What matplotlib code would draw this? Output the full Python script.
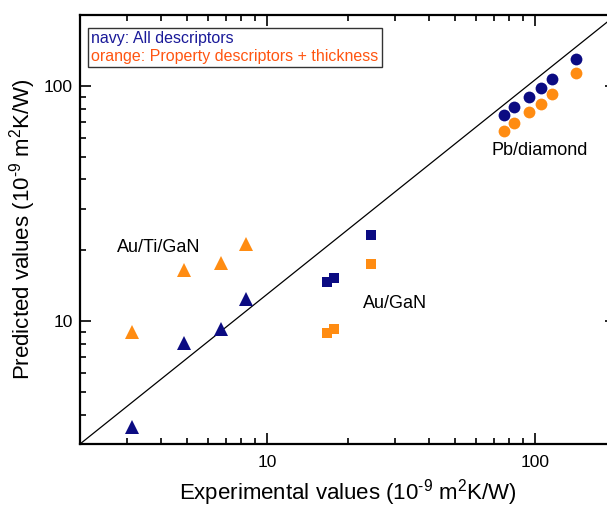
import matplotlib
matplotlib.use('Agg')
import matplotlib.pyplot as plt
import matplotlib.ticker as ticker
from matplotlib.lines import Line2D

plt.rcParams['font.family'] = ['Liberation Sans', 'DejaVu Sans']
plt.rcParams['mathtext.fontset'] = 'custom'
plt.rcParams['mathtext.rm'] = 'Liberation Sans'
plt.rcParams['mathtext.default'] = 'regular'

# Au/Ti/GaN (triangles)
tri_exp = [3.13, 4.87, 6.71, 8.33]
tri_all = [3.55, 8.03, 9.22, 12.44]
tri_prop = [8.99, 16.54, 17.65, 21.2]

# Au/GaN (squares)
sq_exp = [16.65, 17.68, 24.4]
sq_all = [14.67, 15.25, 23.1]
sq_prop = [8.93, 9.22, 17.48]

# Pb/diamond (circles)
circ_exp = [76.6, 83.3, 94.7, 105.0, 115.4, 141.9]
circ_all = [75.2, 81.0, 89.2, 98.1, 107.3, 130.4]
circ_prop = [64.1, 69.6, 77.1, 83.4, 92.2, 113.8]

xlim = (2, 200)
ylim = (3, 200)

navy = '#0b0b82'
orange = '#ff8c12'

fig = plt.figure(figsize=(6.07, 5.09), dpi=100)
# axes extends past the right edge, like the cropped original
ax = fig.add_axes([80 / 607, 65 / 509, 536 / 607, 429 / 509])

# diagonal from corner to corner
ax.plot(xlim, ylim, color='black', lw=0.9, zorder=1)

ax.plot(tri_exp, tri_all, '^', color=navy, ms=9.5, mew=0, zorder=3)
ax.plot(tri_exp, tri_prop, '^', color=orange, ms=9.5, mew=0, zorder=3)
ax.plot(sq_exp, sq_all, 's', color=navy, ms=7, mew=0, zorder=3)
ax.plot(sq_exp, sq_prop, 's', color=orange, ms=7, mew=0, zorder=3)
ax.plot(circ_exp, circ_all, 'o', color=navy, ms=8.5, mew=0, zorder=3)
ax.plot(circ_exp, circ_prop, 'o', color=orange, ms=8.5, mew=0, zorder=3)

ax.set_xscale('log')
ax.set_yscale('log')
ax.set_xlim(*xlim)
ax.set_ylim(*ylim)

for axis in (ax.xaxis, ax.yaxis):
    axis.set_major_locator(ticker.LogLocator(base=10))
    axis.set_major_formatter(ticker.FuncFormatter(lambda v, _: f'{v:g}'))
    axis.set_minor_locator(ticker.LogLocator(base=10, subs=range(2, 10)))
    axis.set_minor_formatter(ticker.NullFormatter())

ax.tick_params(which='both', direction='in', top=True, right=True, width=1.2, labelsize=12.5)
ax.tick_params(which='major', length=8)
ax.tick_params(which='minor', length=4)
ax.tick_params(axis='x', which='major', pad=8)
ax.tick_params(axis='y', which='major', pad=5)
for s in ax.spines.values():
    s.set_linewidth(1.6)

ax.set_xlabel('Experimental values (10$^{\u20109}$ m$^{2}$K/W)', fontsize=16, labelpad=5)
ax.set_ylabel('Predicted values (10$^{\u20109}$ m$^{2}$K/W)', fontsize=16, labelpad=4)

ax.text(103.5, 53, 'Pb/diamond', fontsize=13, ha='center', va='center')
ax.text(3.92, 20.5, 'Au/Ti/GaN', fontsize=13, ha='center', va='center')
ax.text(30.0, 11.9, 'Au/GaN', fontsize=13, ha='center', va='center')

handles = [Line2D([], [], linestyle='none'), Line2D([], [], linestyle='none')]
leg = ax.legend(handles, ['navy: All descriptors', 'orange: Property descriptors + thickness'],
                labelcolor=['#1a1a99', '#ff5511'], loc='upper left',
                bbox_to_anchor=(8 / 536, 1 - 13 / 429), borderaxespad=0,
                handlelength=0, handletextpad=0, borderpad=0.2, labelspacing=0.15,
                fancybox=False, fontsize=11.5, framealpha=1)
leg.get_frame().set_edgecolor('#333333')
leg.get_frame().set_linewidth(1.0)

fig.savefig('out.png', dpi=100)
